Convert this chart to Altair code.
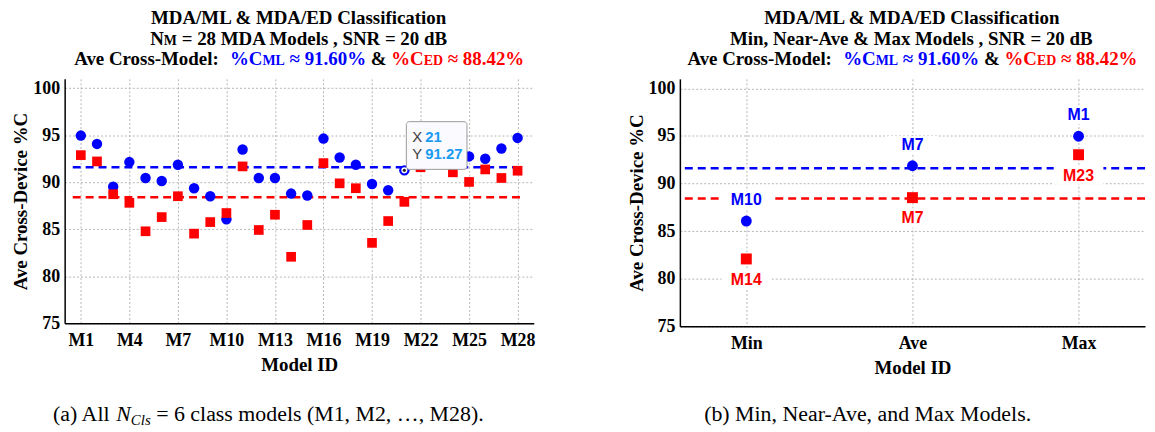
import altair as alt
import pandas as pd

# ---------------- data ----------------
model_ids = list(range(1, 29))
ml_pc = [94.97, 94.08, 89.54, 92.15, 90.46, 90.14, 91.87, 89.37, 88.52, 86.06,
         93.49, 90.46, 90.46, 88.80, 88.59, 94.65, 92.64, 91.87, 89.82, 89.15,
         91.27, 94.10, 94.40, 94.37, 92.75, 92.50, 93.60, 94.72]
ed_pc = [92.89, 92.22, 88.73, 87.82, 84.79, 86.30, 88.52, 84.54, 85.77, 86.73,
         91.69, 84.93, 86.55, 82.08, 85.46, 92.04, 89.89, 89.37, 83.56, 85.88,
         87.92, 91.60, 93.03, 91.06, 90.04, 91.37, 90.46, 91.23]
ave_ml = 91.60
ave_ed = 88.42
x_tick_ids = [1, 4, 7, 10, 13, 16, 19, 22, 25, 28]
y_ticks = [75, 80, 85, 90, 95, 100]
sel_cats = ["Min", "Ave", "Max"]
sel_ml_ids = [10, 7, 1]
sel_ed_ids = [14, 7, 23]
tip_id = 21

BLUE = "#0000ff"
RED = "#ff0000"
SERIF = "Liberation Serif"
SANS = "Liberation Sans"

LW, LH = 472, 246
RW, RH = 468, 249
TFS = 19      # title font size
SFS = 14      # small-caps size

one = pd.DataFrame({"k": [0]})

# ------------- text metrics (Times-compatible) -------------
TB = {' ': 250, '%': 1000, '&': 833, ',': 250, '-': 333, '.': 250, '/': 278, ':': 333,
      '=': 570, '≈': 549, 'A': 722, 'B': 667, 'C': 722, 'D': 722, 'E': 667, 'I': 389,
      'L': 667, 'M': 944, 'N': 722, 'R': 722, 'S': 556, 'a': 500, 'c': 444, 'd': 556,
      'e': 444, 'f': 333, 'i': 278, 'l': 278, 'n': 556, 'o': 500, 'r': 444, 's': 389,
      't': 333, 'v': 500, 'x': 500}
TR = {' ': 250, '(': 333, ')': 333, ',': 250, '.': 250, '-': 333, '=': 564, '…': 1000,
      'A': 722, 'M': 889, 'N': 722, 'a': 444, 'b': 500, 'c': 444, 'd': 500, 'e': 444,
      'i': 278, 'l': 278, 'm': 778, 'n': 500, 'o': 500, 'r': 333, 's': 389, 'v': 500, 'x': 500}
TI = {'N': 667, 'C': 667, 'l': 278, 's': 389}


def twidth(text, size, table):
    return sum(table.get(ch, 500) for ch in text) * size / 1000.0


def text_line(segments, cx, y):
    """segments: list of (text, size, color, weight, style, dy)"""
    tables = []
    total = 0.0
    for (t, s, c, w, st, dy) in segments:
        tab = TI if st == "italic" else (TB if w == "bold" else TR)
        tables.append(tab)
        total += twidth(t, s, tab)
    x = cx - total / 2.0
    layers = []
    for (t, s, c, w, st, dy), tab in zip(segments, tables):
        lead = len(t) - len(t.lstrip(' '))
        xs = x + twidth(' ' * lead, s, tab)
        if t.strip():
            layers.append(
                alt.Chart(one).mark_text(
                    align="left", baseline="alphabetic", font=SERIF, fontSize=s,
                    fontWeight=w, fontStyle=st, color=c, dy=dy
                ).encode(x=alt.value(xs), y=alt.value(y), text=alt.value(t.strip()))
            )
        x += twidth(t, s, tab)
    return layers


def B(t, s=TFS, c="black"):
    return (t, s, c, "bold", "normal", 0)


def title3():
    return [B("Ave Cross-Model:  "), B("%C", TFS, BLUE), B("ML", SFS, BLUE),
            B(" ≈ 91.60%", TFS, BLUE), B(" & "), B("%C", TFS, RED), B("ED", SFS, RED),
            B(" ≈ 88.42%", TFS, RED)]


T1, T2, T3 = -55, -34.5, -13.5

# ---------------- left panel ----------------
df_ml = pd.DataFrame({"id": model_ids, "v": ml_pc})
df_ed = pd.DataFrame({"id": model_ids, "v": ed_pc})
xs = alt.Scale(domain=[0, 29], nice=False, zero=False)
ys = alt.Scale(domain=[75, 101], nice=False, zero=False)

x_ax = alt.Axis(values=x_tick_ids, labelExpr="'M' + datum.value", title="Model ID",
                labelPadding=8, titlePadding=6)
y_ax = alt.Axis(values=y_ticks, title="Ave Cross-Device %C", labelPadding=5, titlePadding=2)

l_rule_ml = alt.Chart(one).mark_rule(color=BLUE, strokeWidth=2.5, strokeDash=[8, 5]).encode(
    x=alt.datum(0.5, scale=xs, axis=x_ax), x2=alt.datum(28.3), y=alt.datum(ave_ml, scale=ys, axis=y_ax))
l_rule_ed = alt.Chart(one).mark_rule(color=RED, strokeWidth=2.5, strokeDash=[8, 5]).encode(
    x=alt.datum(0.5), x2=alt.datum(28.3), y=alt.datum(ave_ed))

l_ml = alt.Chart(df_ml).mark_circle(color=BLUE, opacity=1, size=110).encode(
    x=alt.X("id:Q"), y=alt.Y("v:Q"))
l_ed = alt.Chart(df_ed).mark_square(color=RED, opacity=1, size=95).encode(
    x=alt.X("id:Q"), y=alt.Y("v:Q"))

df_tip = pd.DataFrame({"id": [tip_id], "v": [ml_pc[tip_id - 1]]})
df_tip["xs"] = df_tip["id"].astype(str)
df_tip["ys"] = df_tip["v"].map(lambda v: f"{v:.2f}")
tip_ring = alt.Chart(df_tip).mark_circle(color="white", opacity=1, size=38).encode(x="id:Q", y="v:Q")
tip_dot = alt.Chart(df_tip).mark_circle(color="#222222", opacity=1, size=10).encode(x="id:Q", y="v:Q")
tip_box = alt.Chart(df_tip).mark_rect(
    fill="#fafaff", stroke="#9a9a9a", strokeWidth=1, cornerRadius=3,
    xOffset=2, x2Offset=63, yOffset=-49, y2Offset=-1).encode(
    x="id:Q", x2="id", y="v:Q", y2="v")
tip_x = alt.Chart(df_tip).mark_text(font=SANS, fontSize=15, color="#404040", dx=13, dy=-34,
                                    align="center", baseline="middle").encode(
    x="id:Q", y="v:Q", text=alt.value("X"))
tip_y = alt.Chart(df_tip).mark_text(font=SANS, fontSize=15, color="#404040", dx=13, dy=-16,
                                    align="center", baseline="middle").encode(
    x="id:Q", y="v:Q", text=alt.value("Y"))
tip_xv = alt.Chart(df_tip).mark_text(font=SANS, fontSize=15, fontWeight="bold", color="#1a9cf0",
                                     dx=21, dy=-34, align="left", baseline="middle").encode(
    x="id:Q", y="v:Q", text="xs:N")
tip_yv = alt.Chart(df_tip).mark_text(font=SANS, fontSize=15, fontWeight="bold", color="#1a9cf0",
                                     dx=21, dy=-16, align="left", baseline="middle").encode(
    x="id:Q", y="v:Q", text="ys:N")

lcx = LW / 2
l_title = []
l_title += text_line([B("MDA/ML & MDA/ED Classification")], lcx, T1)
l_title += text_line([B("N"), B("M", SFS), B(" = 28 MDA Models , SNR = 20 dB")], lcx, T2)
l_title += text_line(title3(), lcx, T3)
l_cap = text_line([("(a) All ", 22, "black", "normal", "normal", 0),
                   ("N", 22, "black", "normal", "italic", 0),
                   ("Cls", 15, "black", "normal", "italic", 4),
                   (" = 6 class models (M1, M2, …, M28).", 22, "black", "normal", "normal", 0)],
                  205, 344)

left = alt.layer(l_rule_ml, l_rule_ed, l_ml, l_ed, tip_ring, tip_dot, tip_box,
                 tip_x, tip_y, tip_xv, tip_yv, *l_title, *l_cap).properties(width=LW, height=LH)

# ---------------- right panel ----------------
df_rml = pd.DataFrame({"cat": sel_cats, "v": [ml_pc[i - 1] for i in sel_ml_ids],
                       "lab": [f"M{i}" for i in sel_ml_ids]})
df_red = pd.DataFrame({"cat": sel_cats, "v": [ed_pc[i - 1] for i in sel_ed_ids],
                       "lab": [f"M{i}" for i in sel_ed_ids]})
rxs = alt.Scale(type="point", domain=sel_cats, padding=0.4)
rys = alt.Scale(domain=[75, 101], nice=False, zero=False)
rx_ax = alt.Axis(title="Model ID", labelPadding=8, titlePadding=6, labelAngle=0)
ry_ax = alt.Axis(values=y_ticks, title="Ave Cross-Device %C", labelPadding=5, titlePadding=2)

r_rule_ml = alt.Chart(one).mark_rule(color=BLUE, strokeWidth=2.5, strokeDash=[8, 5]).encode(
    y=alt.datum(ave_ml, scale=rys, axis=ry_ax))
r_rule_ed = alt.Chart(one).mark_rule(color=RED, strokeWidth=2.5, strokeDash=[8, 5]).encode(
    y=alt.datum(ave_ed))
r_ml = alt.Chart(df_rml).mark_circle(color=BLUE, opacity=1, size=120).encode(
    x=alt.X("cat:N", scale=rxs, axis=rx_ax, sort=sel_cats), y=alt.Y("v:Q"))
r_ed = alt.Chart(df_red).mark_square(color=RED, opacity=1, size=121).encode(
    x=alt.X("cat:N", sort=sel_cats), y=alt.Y("v:Q"))
r_box_ml = alt.Chart(df_rml).mark_rect(fill="white", xOffset=-25, x2Offset=25,
                                       yOffset=-30, y2Offset=-12).encode(
    x=alt.X("cat:N", sort=sel_cats), x2="cat", y="v:Q", y2="v")
r_box_ed = alt.Chart(df_red).mark_rect(fill="white", xOffset=-25, x2Offset=25,
                                       yOffset=11, y2Offset=30).encode(
    x=alt.X("cat:N", sort=sel_cats), x2="cat", y="v:Q", y2="v")
r_lab_ml = alt.Chart(df_rml).mark_text(font=SANS, fontSize=16, fontWeight="bold", color=BLUE,
                                       dy=-21, baseline="middle").encode(
    x=alt.X("cat:N", sort=sel_cats), y="v:Q", text="lab:N")
r_lab_ed = alt.Chart(df_red).mark_text(font=SANS, fontSize=16, fontWeight="bold", color=RED,
                                       dy=21, baseline="middle").encode(
    x=alt.X("cat:N", sort=sel_cats), y="v:Q", text="lab:N")

rcx = RW / 2
r_title = []
r_title += text_line([B("MDA/ML & MDA/ED Classification")], rcx, T1)
r_title += text_line([B("Min, Near-Ave & Max Models , SNR = 20 dB")], rcx, T2)
r_title += text_line(title3(), rcx, T3)
r_cap = text_line([("(b) Min, Near-Ave, and Max Models.", 22, "black", "normal", "normal", 0)],
                  190, 344)

right = alt.layer(r_rule_ml, r_rule_ed, r_ml, r_ed, r_box_ml, r_box_ed, r_lab_ml, r_lab_ed,
                  *r_title, *r_cap).properties(width=RW, height=RH)

chart = alt.hconcat(left, right, spacing=92).properties(
    padding={"left": 4, "top": 0, "right": 0, "bottom": 0}
).configure_view(stroke=None).configure_axis(
    domainColor="black", domainWidth=1.5, ticks=False,
    labelFont=SERIF, labelFontSize=18, labelFontWeight="bold", labelColor="black",
    titleFont=SERIF, titleFontSize=19, titleFontWeight="bold", titleColor="black",
    grid=True, gridColor="#b5b5b5", gridDash=[2, 2], gridWidth=1
)

chart.save("out.html", embed_options={"renderer": "svg", "actions": False})
